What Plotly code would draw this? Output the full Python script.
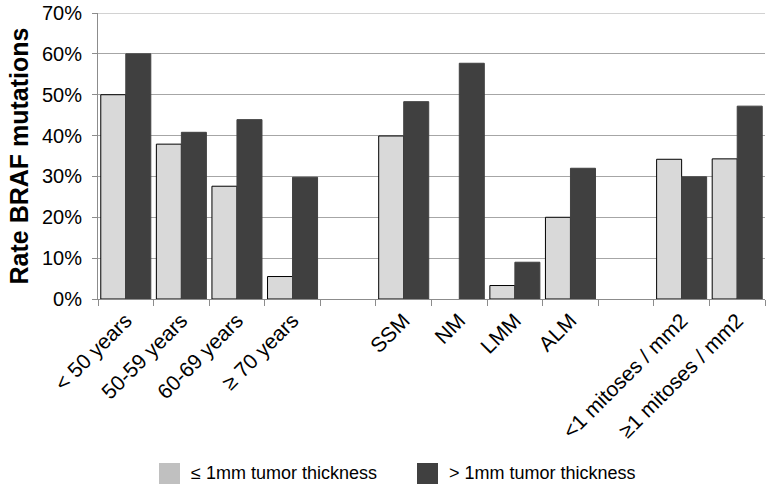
import plotly.graph_objects as go

categories = ["< 50 years", "50-59 years", "60-69 years", "\u2265 70 years", " ",
              "SSM", "NM", "LMM", "ALM", "  ",
              "<1 mitoses / mm2", "\u22651 mitoses / mm2"]
thin = [50.0, 37.9, 27.6, 5.5, None, 39.9, None, 3.3, 20.0, None, 34.2, 34.3]
thick = [60.0, 40.8, 43.9, 29.8, None, 48.3, 57.7, 9.0, 32.0, None, 29.9, 47.2]
series_names = ["\u2264 1mm tumor thickness", "> 1mm tumor thickness"]
series_colors = ["#d9d9d9", "#404040"]
legend_colors = ["#c0c0c0", "#404040"]
y_ticks = [0, 10, 20, 30, 40, 50, 60, 70]
y_labels = [f"{v}%" for v in y_ticks]

font = "Liberation Sans, Arial, sans-serif"
grid_color = "#a6a6a6"

W, H = 771, 490
L, R, T, B = 98, 6, 13, 191
PW, PH = W - L - R, H - T - B

fig = go.Figure()
fig.add_trace(go.Bar(x=categories, y=thin, name=series_names[0], showlegend=False,
                     marker=dict(color=series_colors[0], line=dict(color="#000000", width=1))))
fig.add_trace(go.Bar(x=categories, y=thick, name=series_names[1], showlegend=False,
                     marker=dict(color=series_colors[1], line=dict(color="#404040", width=1))))

# top gridline (plotly drops the gridline lying on the plot edge)
fig.add_shape(type="line", xref="paper", yref="y", x0=0, x1=1,
              y0=y_ticks[-1], y1=y_ticks[-1], layer="below",
              line=dict(color=grid_color, width=1))

# manual legend (large swatches like the original); offsets in px from plot's left/bottom
legend_dx = [61, 319]
for i, name in enumerate(series_names):
    dx = legend_dx[i]
    fig.add_shape(type="rect", xref="paper", yref="paper",
                  x0=dx / PW, x1=(dx + 21) / PW,
                  y0=-185 / PH, y1=-164 / PH,
                  fillcolor=legend_colors[i], line=dict(width=0))
    fig.add_annotation(xref="paper", yref="paper", x=(dx + 30) / PW,
                       y=-174.5 / PH, xanchor="left", yanchor="middle",
                       text=name, showarrow=False, font=dict(size=18, family=font))

fig.update_layout(
    width=W, height=H,
    margin=dict(l=L, r=R, t=T, b=B),
    paper_bgcolor="white", plot_bgcolor="white",
    barmode="group", bargap=0.1, bargroupgap=0,
    font=dict(family=font, color="#000000"),
    showlegend=False,
)
fig.update_xaxes(
    type="category", categoryorder="array", categoryarray=categories,
    tickangle=-45, tickfont=dict(size=21), tickson="boundaries",
    ticks="outside", ticklen=6, tickcolor="#8c8c8c", automargin=False,
    showline=True, linecolor="#8c8c8c", linewidth=1, showgrid=False,
)
fig.update_yaxes(
    range=[0, 70], tickvals=y_ticks, ticktext=y_labels, tickfont=dict(size=20),
    ticks="outside", ticklen=5, tickcolor="#8c8c8c", automargin=False,
    ticklabelstandoff=6, ticklabeloverflow="allow",
    showline=True, linecolor="#8c8c8c", linewidth=1,
    showgrid=True, gridcolor=grid_color, gridwidth=1, zeroline=False,
    title=dict(text="<b>Rate BRAF mutations</b>", font=dict(size=25), standoff=6),
)

fig.write_html("out.html", config={"displayModeBar": False},
               post_script="document.body.style.margin='0';document.body.style.overflow='hidden';")
